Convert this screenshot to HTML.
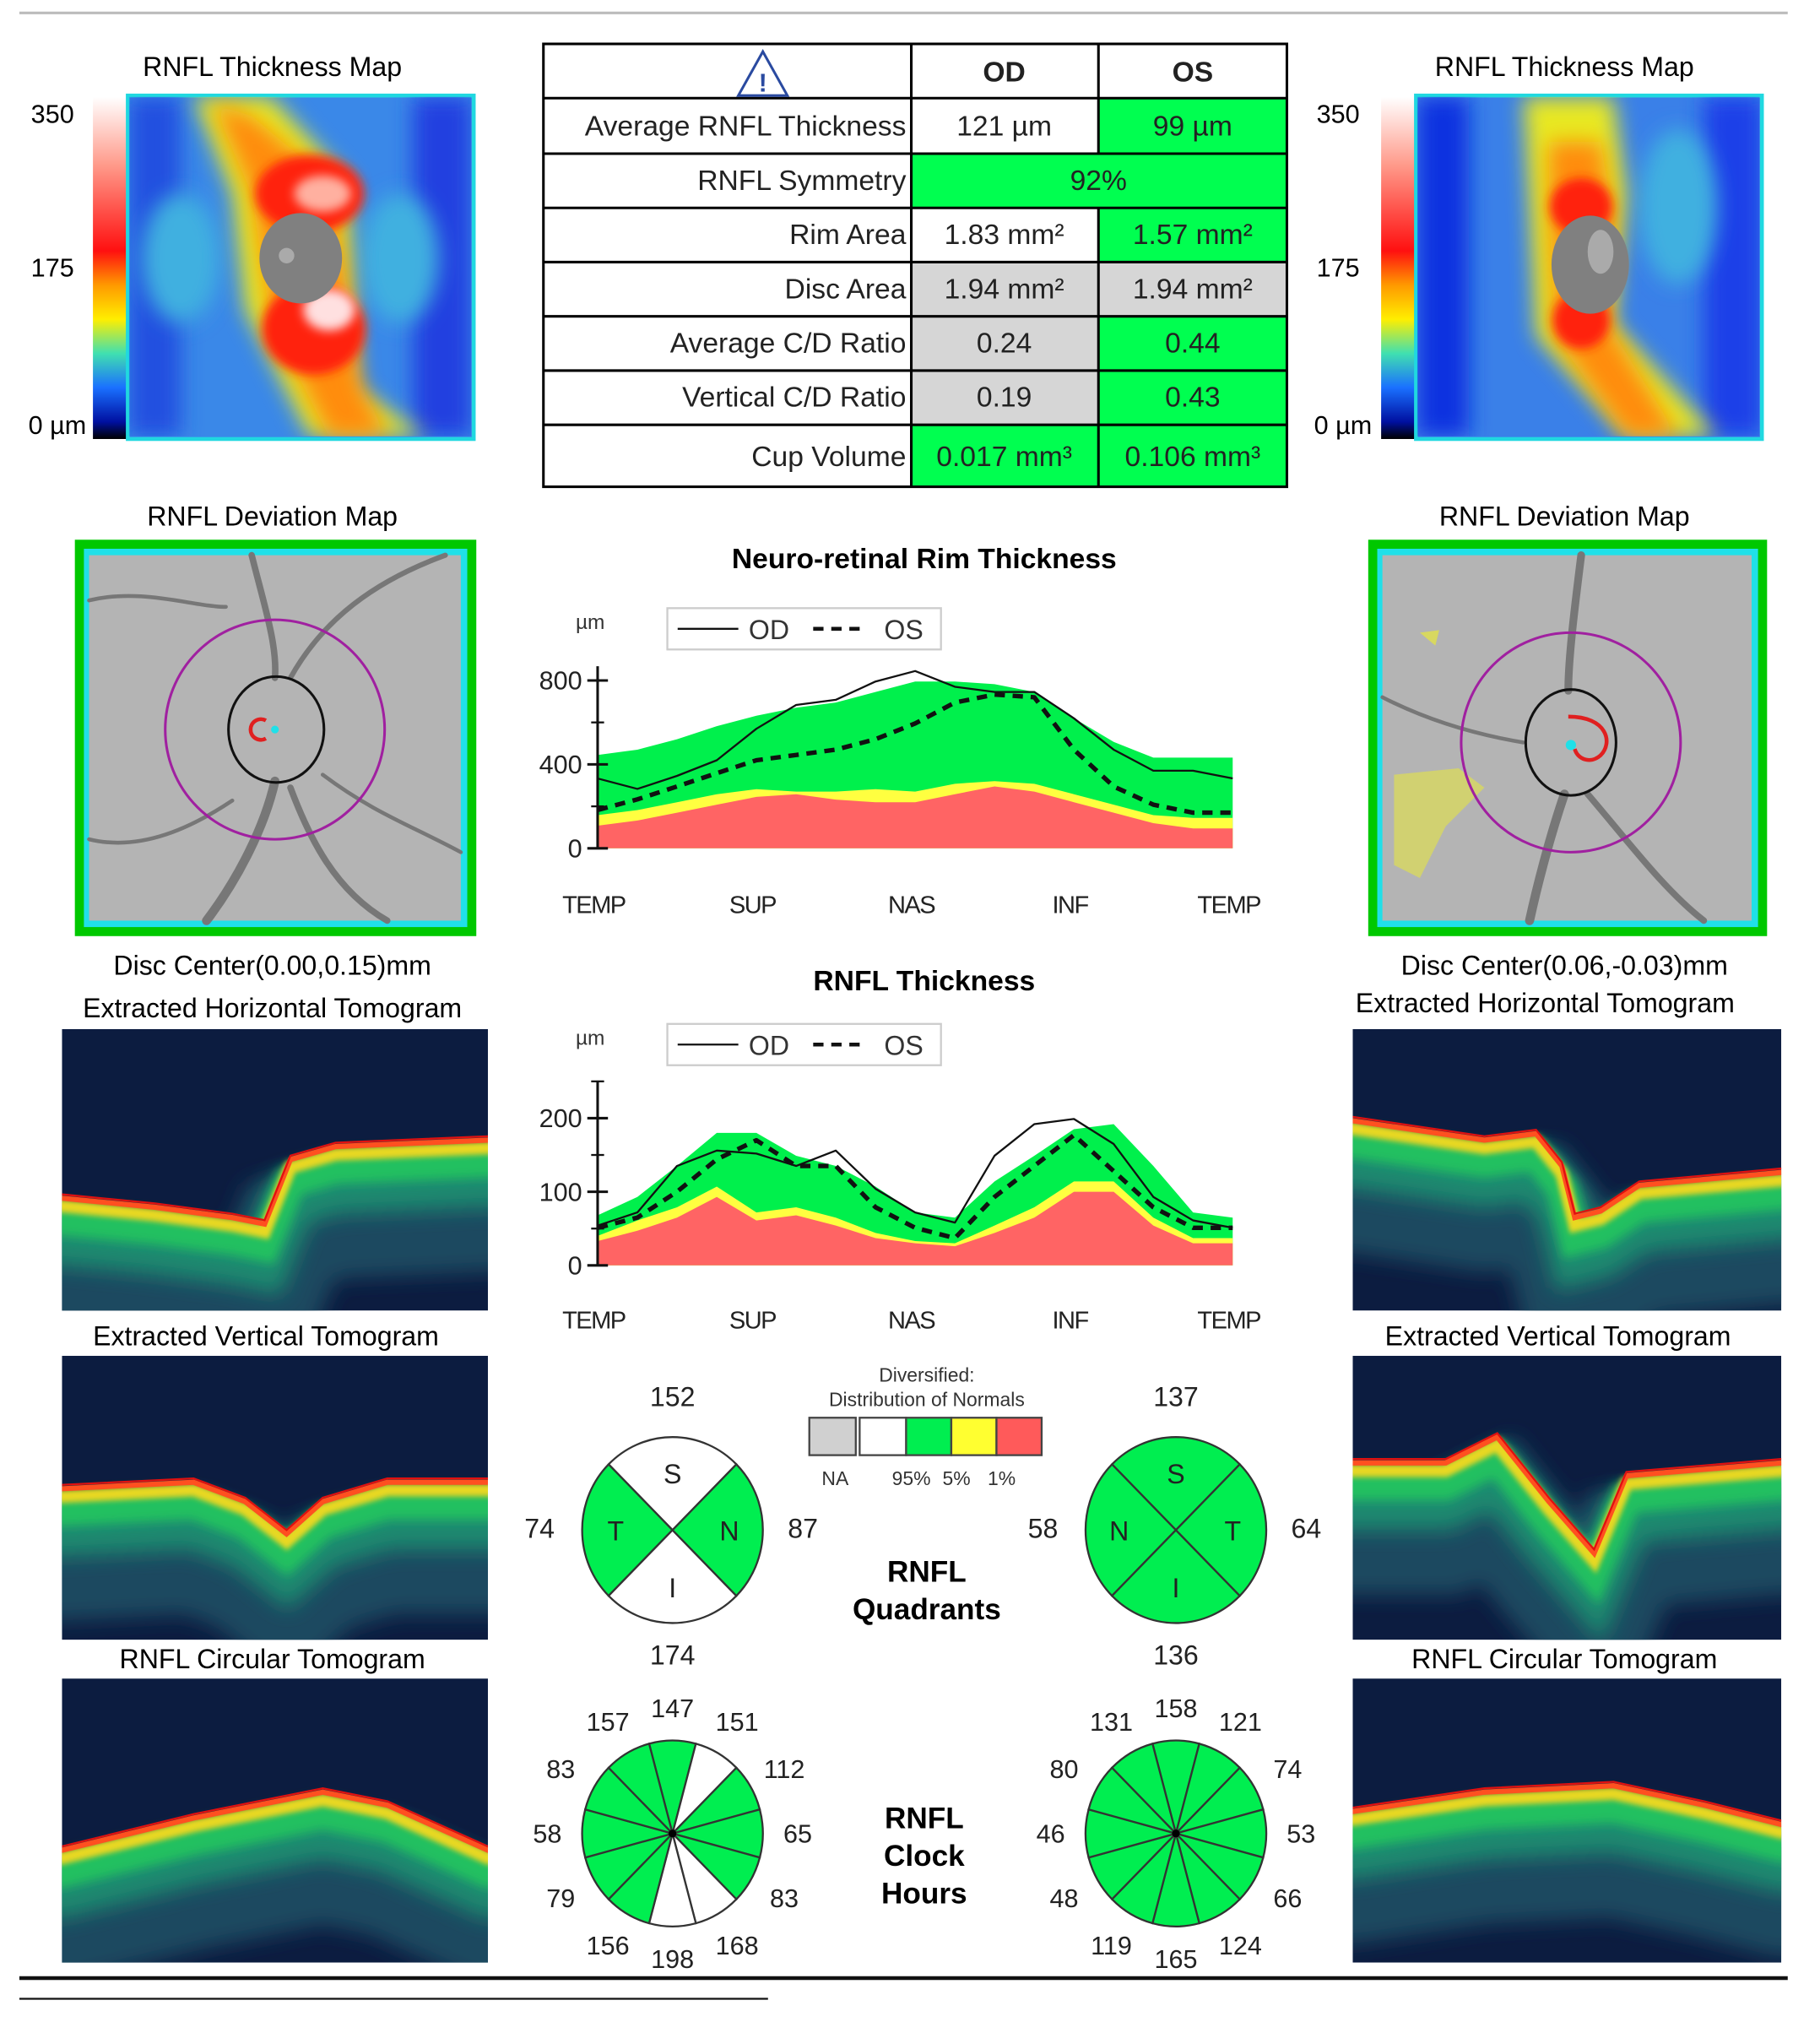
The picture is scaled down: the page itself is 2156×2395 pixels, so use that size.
<!DOCTYPE html>
<html><head><meta charset="utf-8">
<style>
html,body{margin:0;padding:0;background:#fff;}
svg{display:block;}
text{font-family:"Liberation Sans",Arial,sans-serif;}
</style></head>
<body>
<svg id="root" width="2156" height="2395" viewBox="0 0 1410 1566" preserveAspectRatio="none" xmlns="http://www.w3.org/2000/svg">
<defs>
<filter id="blur8" filterUnits="userSpaceOnUse" x="0" y="0" width="1410" height="1566"><feGaussianBlur stdDeviation="8"/></filter>
<filter id="blur4" filterUnits="userSpaceOnUse" x="0" y="0" width="1410" height="1566"><feGaussianBlur stdDeviation="4"/></filter>
<filter id="blur2" filterUnits="userSpaceOnUse" x="0" y="0" width="1410" height="1566"><feGaussianBlur stdDeviation="2"/></filter>
<linearGradient id="cbar" x1="0" y1="0" x2="0" y2="1">
<stop offset="0" stop-color="#ffffff"/><stop offset="0.2" stop-color="#ff9a8a"/><stop offset="0.45" stop-color="#ff1010"/><stop offset="0.55" stop-color="#ff9900"/><stop offset="0.65" stop-color="#ffee00"/><stop offset="0.75" stop-color="#40e0b0"/><stop offset="0.85" stop-color="#1a70ff"/><stop offset="0.95" stop-color="#0010a0"/><stop offset="1" stop-color="#000"/>
</linearGradient>
<clipPath id="cL"><rect x="100" y="75" width="265" height="263"/></clipPath>
<clipPath id="cR"><rect x="1098" y="75" width="265" height="263"/></clipPath>
</defs>

<line x1="15" y1="10" x2="1385" y2="10" stroke="#bbb" stroke-width="2"/>

<g>
<text x="211" y="59" font-size="21" text-anchor="middle">RNFL Thickness Map</text>
<rect x="72" y="75" width="27" height="265" fill="url(#cbar)"/>
<text x="24" y="95" font-size="20">350</text>
<text x="24" y="214" font-size="20">175</text>
<text x="22" y="336" font-size="20">0 µm</text>
<rect x="99" y="74" width="268" height="266" fill="#3a88e8" stroke="#20d8e0" stroke-width="3"/>
<g clip-path="url(#cL)">
<rect x="100" y="75" width="40" height="263" fill="#2050e0" filter="url(#blur8)"/>
<rect x="320" y="75" width="45" height="263" fill="#2040e0" filter="url(#blur8)"/>
<ellipse cx="140" cy="200" rx="30" ry="50" fill="#40b0e0" filter="url(#blur8)"/>
<ellipse cx="310" cy="200" rx="30" ry="50" fill="#40b0e0" filter="url(#blur8)"/>
<path d="M150,75 L210,75 L270,140 L275,300 L330,338 L240,338 L190,240 L180,150 Z" fill="#e8e820" filter="url(#blur8)"/>
<path d="M165,80 L195,90 L255,140 L270,230 L280,300 L300,338 L255,338 L210,250 L195,150 Z" fill="#ff8c10" filter="url(#blur8)"/>
<ellipse cx="240" cy="150" rx="42" ry="30" fill="#ff2010" filter="url(#blur4)"/>
<ellipse cx="243" cy="255" rx="40" ry="35" fill="#ff2010" filter="url(#blur4)"/>
<ellipse cx="250" cy="150" rx="22" ry="14" fill="#ffb0a0" filter="url(#blur4)"/>
<ellipse cx="255" cy="240" rx="20" ry="16" fill="#ffe0e0" filter="url(#blur4)"/>
<ellipse cx="233" cy="200" rx="32" ry="35" fill="#808080"/>
<ellipse cx="222" cy="198" rx="6" ry="6" fill="#aaa"/>
</g>
</g>
<g>
<text x="1212" y="59" font-size="21" text-anchor="middle">RNFL Thickness Map</text>
<rect x="1070" y="75" width="27" height="265" fill="url(#cbar)"/>
<text x="1020" y="95" font-size="20">350</text>
<text x="1020" y="214" font-size="20">175</text>
<text x="1018" y="336" font-size="20">0 µm</text>
<rect x="1097" y="74" width="268" height="266" fill="#3a80e8" stroke="#20d8e0" stroke-width="3"/>
<g clip-path="url(#cR)">
<rect x="1098" y="75" width="40" height="263" fill="#0a30e0" filter="url(#blur8)"/>
<rect x="1320" y="75" width="45" height="263" fill="#1a40e8" filter="url(#blur8)"/>
<ellipse cx="1300" cy="160" rx="30" ry="60" fill="#40b0e0" filter="url(#blur8)"/>
<path d="M1180,75 L1250,75 L1260,150 L1250,250 L1330,338 L1260,338 L1190,260 L1185,160 Z" fill="#e8e820" filter="url(#blur8)"/>
<path d="M1200,110 L1240,110 L1250,170 L1245,250 L1300,338 L1260,338 L1205,260 L1200,160 Z" fill="#ff8c10" filter="url(#blur8)"/>
<ellipse cx="1225" cy="160" rx="24" ry="22" fill="#ff2010" filter="url(#blur4)"/>
<ellipse cx="1225" cy="248" rx="22" ry="22" fill="#ff2010" filter="url(#blur4)"/>
<ellipse cx="1232" cy="205" rx="30" ry="38" fill="#808080"/>
<ellipse cx="1240" cy="195" rx="10" ry="17" fill="#aaa"/>
</g>
</g>

<g>
<rect x="706" y="76" width="145" height="43" fill="#fff"/>
<rect x="851" y="76" width="146" height="43" fill="#00ff50"/>
<rect x="706" y="119" width="291" height="42" fill="#00ff50"/>
<rect x="851" y="161" width="146" height="42" fill="#00ff50"/>
<rect x="706" y="203" width="291" height="42" fill="#d6d6d6"/>
<rect x="706" y="245" width="145" height="84" fill="#d6d6d6"/>
<rect x="851" y="245" width="146" height="84" fill="#00ff50"/>
<rect x="706" y="329" width="291" height="48" fill="#00ff50"/>
<g stroke="#000" stroke-width="2" fill="none">
<rect x="421" y="34" width="576" height="343"/>
<line x1="706" y1="34" x2="706" y2="377"/>
<line x1="851" y1="34" x2="851" y2="119"/>
<line x1="851" y1="161" x2="851" y2="377"/>
<line x1="421" y1="76" x2="997" y2="76"/><line x1="421" y1="119" x2="997" y2="119"/>
<line x1="421" y1="161" x2="997" y2="161"/><line x1="421" y1="203" x2="997" y2="203"/>
<line x1="421" y1="245" x2="997" y2="245"/><line x1="421" y1="287" x2="997" y2="287"/>
<line x1="421" y1="329" x2="997" y2="329"/>
</g>
<path d="M591,40 L572,74 L610,74 Z" fill="none" stroke="#2a4aa0" stroke-width="2"/>
<text x="591" y="71" font-size="20" text-anchor="middle" fill="#2a4aa0" font-weight="bold">!</text>
<g font-size="22" fill="#222">
<text x="778" y="63" text-anchor="middle" font-weight="bold">OD</text>
<text x="924" y="63" text-anchor="middle" font-weight="bold">OS</text>
<text x="702" y="105" text-anchor="end">Average RNFL Thickness</text>
<text x="778" y="105" text-anchor="middle">121 µm</text><text x="924" y="105" text-anchor="middle">99 µm</text>
<text x="702" y="147" text-anchor="end">RNFL Symmetry</text>
<text x="851" y="147" text-anchor="middle">92%</text>
<text x="702" y="189" text-anchor="end">Rim Area</text>
<text x="778" y="189" text-anchor="middle">1.83 mm²</text><text x="924" y="189" text-anchor="middle">1.57 mm²</text>
<text x="702" y="231" text-anchor="end">Disc Area</text>
<text x="778" y="231" text-anchor="middle">1.94 mm²</text><text x="924" y="231" text-anchor="middle">1.94 mm²</text>
<text x="702" y="273" text-anchor="end">Average C/D Ratio</text>
<text x="778" y="273" text-anchor="middle">0.24</text><text x="924" y="273" text-anchor="middle">0.44</text>
<text x="702" y="315" text-anchor="end">Vertical C/D Ratio</text>
<text x="778" y="315" text-anchor="middle">0.19</text><text x="924" y="315" text-anchor="middle">0.43</text>
<text x="702" y="361" text-anchor="end">Cup Volume</text>
<text x="778" y="361" text-anchor="middle">0.017 mm³</text><text x="924" y="361" text-anchor="middle">0.106 mm³</text>
</g>
</g>

<g>
<text x="211" y="407" font-size="21" text-anchor="middle">RNFL Deviation Map</text>
<rect x="58" y="418" width="311" height="307" fill="#00c800"/>
<rect x="65" y="425" width="297" height="293" fill="#20e0e8"/>
<rect x="69" y="430" width="288" height="283" fill="#b4b4b4"/>
<g stroke="#777" fill="none" stroke-linecap="round">
<path d="M195,430 C205,470 215,500 213,525" stroke-width="5"/>
<path d="M213,605 C205,640 185,680 160,713" stroke-width="7"/>
<path d="M225,610 C240,650 260,690 300,713" stroke-width="5"/>
<path d="M225,525 C250,480 290,450 345,430" stroke-width="4"/>
<path d="M69,465 C110,455 150,470 175,470" stroke-width="3"/>
<path d="M69,650 C110,660 150,640 180,620" stroke-width="3"/>
<path d="M250,600 C290,630 320,640 357,660" stroke-width="3"/>
</g>
<circle cx="213" cy="565" r="85" fill="none" stroke="#a020a0" stroke-width="2"/>
<ellipse cx="214" cy="565" rx="37" ry="41" fill="none" stroke="#111" stroke-width="2"/>
<path d="M206,558 A8,8 0 1,0 206,572" fill="none" stroke="#e02020" stroke-width="3"/>
<circle cx="213" cy="565" r="3" fill="#20e0e8"/>
</g>
<g>
<text x="1212" y="407" font-size="21" text-anchor="middle">RNFL Deviation Map</text>
<rect x="1060" y="418" width="309" height="307" fill="#00c800"/>
<rect x="1067" y="425" width="295" height="293" fill="#20e0e8"/>
<rect x="1071" y="430" width="286" height="283" fill="#b4b4b4"/>
<g stroke="#777" fill="none" stroke-linecap="round">
<path d="M1225,430 C1220,470 1215,510 1215,535" stroke-width="6"/>
<path d="M1212,615 C1200,650 1190,690 1185,713" stroke-width="7"/>
<path d="M1230,615 C1260,650 1290,690 1320,713" stroke-width="5"/>
<path d="M1071,540 C1110,560 1150,570 1180,575" stroke-width="3"/>
</g>
<path d="M1080,600 L1130,595 L1150,610 L1120,640 L1100,680 L1080,670 Z" fill="#d8d860" opacity="0.8"/>
<path d="M1100,490 L1115,488 L1112,500 Z" fill="#d8d860"/>
<circle cx="1217" cy="575" r="85" fill="none" stroke="#a020a0" stroke-width="2"/>
<ellipse cx="1217" cy="575" rx="35" ry="41" fill="none" stroke="#111" stroke-width="2"/>
<path d="M1215,555 C1245,555 1250,575 1240,585 C1232,592 1222,588 1220,580" fill="none" stroke="#e02020" stroke-width="3"/>
<circle cx="1217" cy="577" r="4" fill="#20e0e8"/>
</g>

<g font-size="21" text-anchor="middle">
<text x="211" y="755">Disc Center(0.00,0.15)mm</text>
<text x="211" y="788">Extracted Horizontal Tomogram</text>
<text x="206" y="1042">Extracted Vertical Tomogram</text>
<text x="211" y="1292">RNFL Circular Tomogram</text>
<text x="1212" y="755">Disc Center(0.06,-0.03)mm</text>
<text x="1197" y="784">Extracted Horizontal Tomogram</text>
<text x="1207" y="1042">Extracted Vertical Tomogram</text>
<text x="1212" y="1292">RNFL Circular Tomogram</text>
</g>
<g id="tomos"></g>

<text x="716" y="440" font-size="22" font-weight="bold" text-anchor="middle">Neuro-retinal Rim Thickness</text>
<text x="716" y="767" font-size="22" font-weight="bold" text-anchor="middle">RNFL Thickness</text>
<g id="rimChart"></g>
<g id="rnflChart"></g>

<g>
<text x="718" y="1070" font-size="15" text-anchor="middle" fill="#333">Diversified:</text>
<text x="718" y="1089" font-size="15" text-anchor="middle" fill="#333">Distribution of Normals</text>
<rect x="627" y="1098" width="36" height="29" fill="#d0d0d0" stroke="#444" stroke-width="1.5"/>
<rect x="666" y="1098" width="36" height="29" fill="#fff" stroke="#444" stroke-width="1.5"/>
<rect x="702" y="1098" width="35" height="29" fill="#00ee50" stroke="#444" stroke-width="1.5"/>
<rect x="737" y="1098" width="35" height="29" fill="#ffff30" stroke="#444" stroke-width="1.5"/>
<rect x="772" y="1098" width="35" height="29" fill="#ff5a5a" stroke="#444" stroke-width="1.5"/>
<g font-size="15" text-anchor="middle" fill="#333">
<text x="647" y="1150">NA</text><text x="706" y="1150">95%</text><text x="741" y="1150">5%</text><text x="776" y="1150">1%</text></g>
</g>
<g font-size="23" font-weight="bold" text-anchor="middle">
<text x="718" y="1225">RNFL</text>
<text x="718" y="1254">Quadrants</text>
<text x="716" y="1416">RNFL</text>
<text x="716" y="1445">Clock</text>
<text x="716" y="1474">Hours</text>
</g>
<g id="pies"></g>

<line x1="15" y1="1532" x2="1385" y2="1532" stroke="#111" stroke-width="3"/>
<line x1="15" y1="1548" x2="595" y2="1548" stroke="#111" stroke-width="1.5"/>
</svg>

<script>
const positions = ["TEMP","SUP","NAS","INF","TEMP"];
const rimGreen  = [445,470,520,582,632,670,695,745,795,795,782,745,620,507,432,432,432];
const rimYellow = [158,182,220,258,282,270,270,282,270,308,320,308,258,208,158,145,145];
const rimRed    = [108,132,170,208,245,258,232,220,220,258,295,270,220,170,120,95,95];
const rimOD     = [333,283,345,420,570,683,708,795,845,770,745,745,620,470,370,370,333];
const rimOS     = [183,233,295,358,420,445,470,520,595,695,733,720,470,295,208,170,170];
const rimTicks  = [0,400,800];
const rnflGreen  = [68,93,135,180,180,149,135,107,72,65,114,149,185,192,135,72,65];
const rnflYellow = [40,61,79,107,72,79,65,44,33,30,54,79,114,114,65,37,37];
const rnflRed    = [33,47,65,93,61,68,54,37,30,26,44,65,100,100,54,30,30];
const rnflOD     = [54,72,135,156,152,135,156,104,72,58,149,192,199,165,93,61,51];
const rnflOS     = [51,65,100,144,170,135,135,79,51,37,93,135,177,128,79,51,51];
const rnflTicks  = [0,100,200];
const odQuad = [152,74,174,87];
const osQuad = [137,58,136,64];
const odClock = [147,151,112,65,83,168,198,156,79,58,83,157];
const osClock = [158,121,74,53,66,124,165,119,48,46,80,131];
const odClockWhite = [false,true,false,false,false,true,true,false,false,false,false,false];

const NS="http://www.w3.org/2000/svg";
function mk(tag, attrs, parent){const e=document.createElementNS(NS,tag);for(const k in attrs)e.setAttribute(k,attrs[k]);parent.appendChild(e);return e;}

function drawChart(g, cfg){
  const x0=463,x1=955;
  const xs=i=>x0+i*(x1-x0)/(cfg.green.length-1);
  const ys=v=>cfg.base - v*cfg.k;
  const lg=mk('rect',{x:517,y:cfg.legY,width:212,height:32,fill:'#fff',stroke:'#ccc','stroke-width':1.5},g);
  
  
  mk('line',{x1:525,y1:cfg.legY+16,x2:572,y2:cfg.legY+16,stroke:'#111','stroke-width':1.5},g);
  const t1=mk('text',{x:580,y:cfg.legY+24,'font-size':21,fill:'#333'},g);t1.textContent='OD';
  mk('line',{x1:630,y1:cfg.legY+16,x2:672,y2:cfg.legY+16,stroke:'#111','stroke-width':3,'stroke-dasharray':'8,6'},g);
  const t2=mk('text',{x:685,y:cfg.legY+24,'font-size':21,fill:'#333'},g);t2.textContent='OS';
  const mu=mk('text',{x:446,y:cfg.legY+16,'font-size':16,fill:'#333'},g);mu.textContent='µm';
  const area=(arr,fill,name)=>{
    let d='M'+xs(0)+','+cfg.base;
    arr.forEach((v,i)=>{d+=' L'+xs(i).toFixed(1)+','+ys(v).toFixed(1);});
    d+=' L'+xs(arr.length-1)+','+cfg.base+' Z';
    const p=mk('path',{d:d,fill:fill},g);
    
    
  };
  area(cfg.green,'#00f04c','band-95');
  area(cfg.yellow,'#ffff40','band-5');
  area(cfg.red,'#ff6464','band-1');
  const line=(arr,dash,w,name)=>{
    const pts=arr.map((v,i)=>xs(i).toFixed(1)+','+ys(v).toFixed(1)).join(' ');
    const p=mk('polyline',{points:pts,fill:'none',stroke:'#111','stroke-width':w,'stroke-linejoin':'round'},g);
    if(dash)p.setAttribute('stroke-dasharray',dash);
    
    
  };
  line(cfg.od,null,1.5,'od-line');
  line(cfg.os,'8,6',3.5,'os-line');
  mk('line',{x1:x0,y1:cfg.base,x2:x0,y2:cfg.top,stroke:'#111','stroke-width':2},g);
  cfg.minor.forEach(v=>mk('line',{x1:x0-5,y1:ys(v),x2:x0+5,y2:ys(v),stroke:'#111','stroke-width':1.5},g));
  cfg.ticks.forEach(v=>{
    mk('line',{x1:x0-8,y1:ys(v),x2:x0+8,y2:ys(v),stroke:'#111','stroke-width':2},g);
    const t=mk('text',{x:x0-12,y:ys(v)+7,'font-size':20,'text-anchor':'end',fill:'#222'},g);
    t.textContent=v;
    
    
  });
  positions.forEach((p,i)=>{
    const t=mk('text',{x:x0-3+i*(x1-x0)/4,y:cfg.labY,'font-size':19,'text-anchor':'middle',fill:'#222','letter-spacing':'-1'},g);
    t.textContent=p;
    
    
  });
}
drawChart(document.getElementById('rimChart'),{green:rimGreen,yellow:rimYellow,red:rimRed,od:rimOD,os:rimOS,ticks:rimTicks,minor:[200,600],base:657,k:65/400,top:516,legY:471,labY:707});
drawChart(document.getElementById('rnflChart'),{green:rnflGreen,yellow:rnflYellow,red:rnflRed,od:rnflOD,os:rnflOS,ticks:rnflTicks,minor:[50,150,250],base:980,k:0.57,top:838,legY:793,labY:1029});

const pg=document.getElementById('pies');
function quad(cx,cy,vals,letters,whites,name){
  const rx=70, ry=72;
  const g=mk('g',{},pg);
  
  
  const cen=[-90,180,90,0];
  cen.forEach((a,i)=>{
    const a1=(a-45)*Math.PI/180,a2=(a+45)*Math.PI/180;
    const d=`M${cx},${cy} L${cx+rx*Math.cos(a1)},${cy+ry*Math.sin(a1)} A${rx},${ry} 0 0,1 ${cx+rx*Math.cos(a2)},${cy+ry*Math.sin(a2)} Z`;
    const p=mk('path',{d:d,fill:whites[i]?'#fff':'#00ee50',stroke:'#333','stroke-width':1.5},g);
    
    
    const lt=mk('text',{x:cx+44*Math.cos(a*Math.PI/180),y:cy+44*Math.sin(a*Math.PI/180)+8,'font-size':21,'text-anchor':'middle',fill:'#222'},g);
    lt.textContent=letters[i];
  });
  const pos=[[cx,cy-96],[cx-103,cy+6],[cx,cy+104],[cx+101,cy+6]];
  vals.forEach((v,i)=>{const t=mk('text',{x:pos[i][0],y:pos[i][1],'font-size':21,'text-anchor':'middle',fill:'#222'},g);t.textContent=v;
    
    });
}
quad(521,1185,odQuad,['S','T','I','N'],[true,false,true,false],'od-quadrant-pie');
quad(911,1185,osQuad,['S','N','I','T'],[false,false,false,false],'os-quadrant-pie');

function clock(cx,cy,vals,whites,name){
  const rx=70,ry=72;
  const g=mk('g',{},pg);
  
  
  vals.forEach((v,i)=>{
    const a=-90+i*30;
    const a1=(a-15)*Math.PI/180,a2=(a+15)*Math.PI/180;
    const d=`M${cx},${cy} L${cx+rx*Math.cos(a1)},${cy+ry*Math.sin(a1)} A${rx},${ry} 0 0,1 ${cx+rx*Math.cos(a2)},${cy+ry*Math.sin(a2)} Z`;
    const p=mk('path',{d:d,fill:(whites&&whites[i])?'#fff':'#00ee50',stroke:'#333','stroke-width':1.5},g);
    
    
    const ar=a*Math.PI/180, R=(i%3===0)?97:100;
    const t=mk('text',{x:cx+R*Math.cos(ar),y:cy+R*Math.sin(ar)+7,'font-size':20,'text-anchor':'middle',fill:'#222'},g);
    t.textContent=v;
    
    
  });
  mk('circle',{cx:cx,cy:cy,r:3,fill:'#000'},g);
}
clock(521,1420,odClock,odClockWhite,'od-clock-pie');
clock(911,1420,osClock,null,'os-clock-pie');

const tg=document.getElementById('tomos');
const tomos=[
 {x:48,y:797,w:330,h:218,n:'od-horizontal-tomogram',p:[[48,925],[120,932],[180,940],[205,945],[225,895],[260,885],[378,880]]},
 {x:48,y:1050,w:330,h:220,n:'od-vertical-tomogram',p:[[48,1150],[150,1145],[190,1160],[222,1185],[250,1160],[300,1145],[378,1145]]},
 {x:48,y:1300,w:330,h:220,n:'od-circular-tomogram',p:[[48,1430],[150,1405],[250,1385],[300,1395],[378,1430]]},
 {x:1048,y:797,w:332,h:218,n:'os-horizontal-tomogram',p:[[1048,865],[1150,880],[1190,875],[1210,900],[1220,940],[1240,935],[1270,915],[1380,905]]},
 {x:1048,y:1050,w:332,h:220,n:'os-vertical-tomogram',p:[[1048,1130],[1120,1130],[1160,1110],[1200,1160],[1235,1200],[1260,1140],[1380,1130]]},
 {x:1048,y:1300,w:332,h:220,n:'os-circular-tomogram',p:[[1048,1400],[1150,1385],[1250,1380],[1320,1395],[1380,1410]]}
];
tomos.forEach((t,i)=>{
  const g=mk('g',{},tg);
  
  
  const cp=mk('clipPath',{id:'tc'+i},g);
  mk('rect',{x:t.x,y:t.y,width:t.w,height:t.h},cp);
  const inner=mk('g',{'clip-path':'url(#tc'+i+')'},g);
  mk('rect',{x:t.x,y:t.y,width:t.w,height:t.h,fill:'#0c1c40'},inner);
  const ext=[[t.p[0][0]-40,t.p[0][1]]].concat(t.p,[[t.p[t.p.length-1][0]+40,t.p[t.p.length-1][1]]]);
  const pts=(dy)=>ext.map(q=>q[0]+','+(q[1]+dy)).join(' ');
  mk('polyline',{points:pts(60),fill:'none',stroke:'#1a4a60','stroke-width':90,filter:'url(#blur8)'},inner);
  mk('polyline',{points:pts(35),fill:'none',stroke:'#1a8a70','stroke-width':40,filter:'url(#blur8)'},inner);
  mk('polyline',{points:pts(20),fill:'none',stroke:'#20c060','stroke-width':24,filter:'url(#blur4)'},inner);
  mk('polyline',{points:pts(9),fill:'none',stroke:'#e8d820','stroke-width':10,filter:'url(#blur2)'},inner);
  mk('polyline',{points:pts(3),fill:'none',stroke:'#ff5020','stroke-width':4},inner);
  mk('polyline',{points:pts(0),fill:'none',stroke:'#e01010','stroke-width':1.5},inner);
});
</script>
</body></html>
